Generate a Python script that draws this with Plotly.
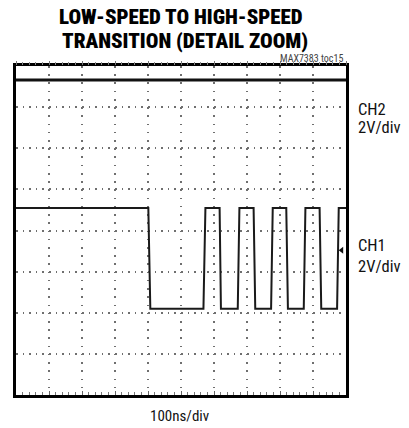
import plotly.graph_objects as go

# ---------------- data (grid units: 10 x-div, 8 y-div) ----------------
ch1_high = 4.55
ch1_low = 2.10
ch1_t = [0.0, 4.01, 4.07, 5.68, 5.74, 6.17, 6.21, 6.72, 6.77, 7.20, 7.25,
         7.73, 7.78, 8.19, 8.24, 8.72, 8.77, 9.20, 9.25, 9.73, 9.78, 10.0]
ch1_state = [1, 1, 0, 0, 1, 1, 0, 0, 1, 1, 0, 0, 1, 1, 0, 0, 1, 1, 0, 0, 1, 1]
ch2_t = [0.0, 10.0]
ch2_v = [7.66, 7.66]
marker_t = [9.87]
marker_v = [3.52]

title_lines = ["LOW-SPEED TO HIGH-SPEED", "TRANSITION (DETAIL ZOOM)"]
toc_label = "MAX7383 toc15"
ch_labels = [("CH2", "2V/div"), ("CH1", "2V/div")]
x_label = "100ns/div"

ch1_v = [ch1_high if s else ch1_low for s in ch1_state]

# ---------------- layout geometry ----------------
W, H = 409, 428
L, R, T, B = 16, 63, 66, 33
PW, PH = W - L - R, H - T - B


def px(xp):
    return (xp - L) / PW


def py(yp):
    return (H - B - yp) / PH


NARROW = "Roboto Condensed, Noto Sans Condensed, Liberation Sans Narrow, DejaVu Sans Condensed, sans-serif"

fig = go.Figure()
fig.add_trace(go.Scatter(x=ch2_t, y=ch2_v, mode="lines",
                         line=dict(color="#111111", width=3.2),
                         hoverinfo="skip", showlegend=False))
fig.add_trace(go.Scatter(x=ch1_t, y=ch1_v, mode="lines",
                         line=dict(color="#1a1a1a", width=2),
                         hoverinfo="skip", showlegend=False))
fig.add_trace(go.Scatter(x=marker_t, y=marker_v, mode="markers",
                         marker=dict(symbol="triangle-left", size=6, color="#111111"),
                         hoverinfo="skip", showlegend=False))
# helper trace on top axis for outside top ticks
fig.add_trace(go.Scatter(x=[0, 10], y=[0, 0], mode="lines", xaxis="x2",
                         line=dict(width=0), opacity=0,
                         hoverinfo="skip", showlegend=False))

grid_col = "#6f6f6f"
fig.update_layout(
    width=W, height=H,
    margin=dict(l=L, r=R, t=T, b=B, pad=0),
    paper_bgcolor="white", plot_bgcolor="white",
    xaxis=dict(range=[0, 10], dtick=1, showticklabels=False,
               showgrid=True, gridcolor=grid_col, gridwidth=1.6,
               griddash="1.6px,6.625px",
               showline=True, linecolor="black", linewidth=3, mirror=True,
               ticks="inside", ticklen=4, tickcolor="#666666", tickwidth=1.2,
               minor=dict(dtick=0.2, ticks="inside", ticklen=3,
                          tickcolor="#777777", showgrid=False),
               zeroline=False, fixedrange=True),
    xaxis2=dict(range=[0, 10], overlaying="x", side="top", dtick=1,
                showticklabels=False, showgrid=False, showline=False,
                ticks="outside", ticklen=4, tickcolor="#777777", tickwidth=1.2,
                minor=dict(dtick=0.2, ticks="outside", ticklen=3,
                           tickcolor="#888888"),
                zeroline=False, fixedrange=True),
    yaxis=dict(range=[0, 8], dtick=1, showticklabels=False,
               showgrid=True, gridcolor=grid_col, gridwidth=1.6,
               griddash="1.6px,5.0px",
               showline=True, linecolor="black", linewidth=3, mirror=True,
               ticks="", zeroline=False, fixedrange=True),
)

ann = []
ann.append(dict(text=title_lines[0], x=px(181), y=py(16.5),
                xanchor="center", yanchor="middle",
                font=dict(family=NARROW, size=21, weight=900, color="black")))
ann.append(dict(text=title_lines[1], x=px(185), y=py(41),
                xanchor="center", yanchor="middle",
                font=dict(family=NARROW, size=21, weight=900, color="black")))
ann.append(dict(text=toc_label, x=px(345), y=py(58.5), xanchor="right",
                yanchor="middle", font=dict(family=NARROW, size=10, color="#444444")))
for (c, s), (y1, y2) in zip(ch_labels, [(109, 127), (245.5, 266)]):
    ann.append(dict(text=c, x=px(356), y=py(y1), xanchor="left", yanchor="middle",
                    font=dict(family=NARROW, size=16.5, color="#111111")))
    ann.append(dict(text=s, x=px(356), y=py(y2), xanchor="left", yanchor="middle",
                    font=dict(family=NARROW, size=16.5, color="#111111")))
ann.append(dict(text=x_label, x=px(179.5), y=py(416), xanchor="center",
                yanchor="middle", font=dict(family=NARROW, size=15, color="#111111")))
for a in ann:
    a.update(xref="paper", yref="paper", showarrow=False)
fig.update_layout(annotations=ann)

fig.write_html("out.html")
